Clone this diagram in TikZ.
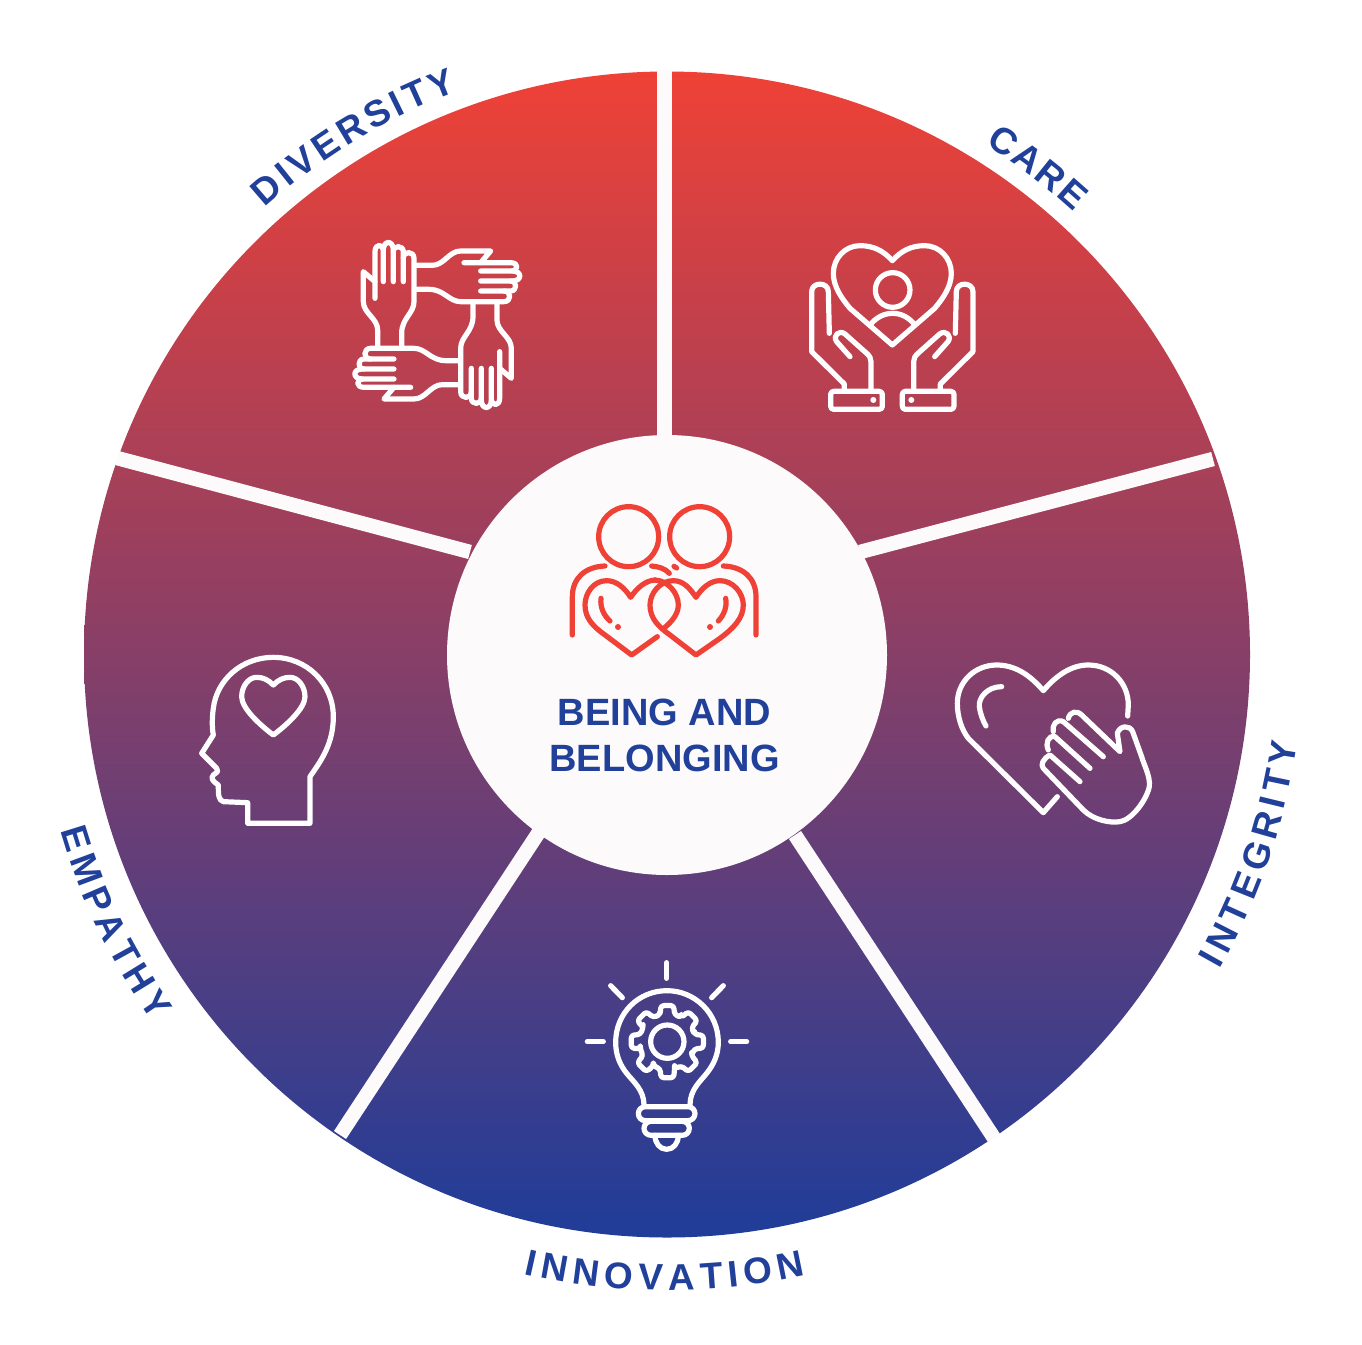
\documentclass[tikz,border=0pt]{standalone}
\usepackage{fontspec}
\setmainfont{Liberation Sans}
\usetikzlibrary{decorations.text}
\definecolor{wheeltop}{HTML}{EF4136}
\definecolor{wheelbot}{HTML}{1F3D99}
\definecolor{labelblue}{HTML}{21409A}
\definecolor{paper}{HTML}{FCFAFB}
\tikzset{
  spoke/.style={draw=paper,line width=14.5pt},
  icon/.style={draw=white,line width=5.2pt,line cap=round,line join=round,fill=none},
  redicon/.style={draw=wheeltop,line width=5.2pt,line cap=round,line join=round,fill=none},
  zoomed/.style={x=0.3333pt,y=-0.3333pt},
  arclabel/.style={decorate,decoration={text along path,
      text={|\fontsize{37pt}{37pt}\selectfont\bfseries\color{labelblue}|#1},
      text align={fit to path}}},
  centretext/.style={text=labelblue,font=\fontsize{38pt}{46pt}\selectfont\bfseries,align=center}
}
\begin{document}
\begin{tikzpicture}[x=1pt,y=-1pt]
\useasboundingbox (0,0) rectangle (1362,1344);
\fill[white] (0,0) rectangle (1362,1344);
% wheel
\shade[top color=wheeltop,bottom color=wheelbot] (667,654.5) circle[radius=583pt];
\draw[spoke] (664.5,70) -- (664.5,445);
\draw[spoke] (860,552) -- (1213,459);
\draw[spoke] (795,835) -- (994,1138);
\draw[spoke] (539,832) -- (340,1135);
\draw[spoke] (470,552) -- (117,458);
\node[circle,fill=paper,minimum size=440pt,inner sep=0pt] (hub) at (667,655) {};
\node[centretext] (title) at (664.5,735) {BEING AND\\BELONGING};
% labels
\path[arclabel=DIVERSITY] (667,654.5) ++(132:601pt) arc[start angle=132,end angle=110.4,radius=601pt];
\path[arclabel=CARE] (667,654.5) ++(58:601pt) arc[start angle=58,end angle=47.4,radius=601pt];
\path[arclabel=INTEGRITY] (667,654.5) ++(-29.7:636pt) arc[start angle=-29.7,end angle=-8,radius=636pt];
\path[arclabel=INNOVATION] (667,654.5) ++(-103:636pt) arc[start angle=-103,end angle=-77.4,radius=636pt];
\path[arclabel=EMPATHY] (667,654.5) ++(196.2:632pt) arc[start angle=196.2,end angle=215.5,radius=632pt];
% diversity icon
\begin{scope}[shift={(340,230)},zoomed]
\foreach \r in {0,-90,-180,-270}{
 \begin{scope}[rotate around={\r:(292,285)}]
  \draw[icon] (113,350) -- (113,300) .. controls (113,265) and (70,250) .. (70,215) -- (70,125) -- (105,155);
  \draw[icon] (105,205) -- (105,65) .. controls (105,40) and (130,40) .. (130,65) -- (130,155);
  \draw[icon] (130,60) .. controls (130,30) and (160,30) .. (160,60) -- (160,155);
  \draw[icon] (160,65) .. controls (160,45) and (190,45) .. (190,65) -- (190,155);
  \draw[icon] (190,85) .. controls (190,62) and (222,62) .. (222,85) -- (222,215) .. controls (222,250) and (185,265) .. (185,310) -- (185,350);
 \end{scope}
}
\end{scope}
% care icon
\begin{scope}[shift={(795,230)},zoomed]
\draw[icon] (292,92) .. controls (265,62) and (235,47) .. (195,47) .. controls (150,47) and (115,85) .. (115,130) .. controls (115,170) and (140,205) .. (165,235) -- (292,345) -- (419,235) .. controls (444,205) and (469,170) .. (469,130) .. controls (469,85) and (434,47) .. (389,47) .. controls (349,47) and (319,62) .. cycle;
\draw[icon] (293,180) circle[radius=52];
\draw[icon] (225,285) .. controls (245,260) and (270,250) .. (293,250) .. controls (316,250) and (340,260) .. (360,285);
\foreach \m/\o in {1/0,-1/584}{
 \begin{scope}[xshift=\o*0.3333pt,xscale=\m]
  \draw[icon] (148,482) -- (148,462) -- (50,365) -- (50,185) .. controls (50,155) and (100,155) .. (100,185) -- (103,310);
  \draw[icon] (165,380) -- (125,335) .. controls (112,318) and (132,298) .. (150,312) -- (215,370) .. controls (224,378) and (228,385) .. (228,395) -- (228,482);
  \draw[icon,rounded corners=3pt] (107,484) rectangle (262,538);
  \fill[white] (235,510) circle[radius=9];
 \end{scope}
}
\end{scope}
% hub icon
\begin{scope}[shift={(550,490)},zoomed]
\draw[redicon] (236,140) circle[radius=90];
\draw[redicon] (449,140) circle[radius=90];
\draw[redicon] (67,435) -- (67,320) .. controls (67,265) and (105,230) .. (165,228);
\draw[redicon] (618,435) -- (618,320) .. controls (618,265) and (580,230) .. (520,228);
\draw[redicon] (305,228) .. controls (325,230) and (345,235) .. (358,250);
\draw[redicon] (372,229) -- (380,234);
\draw[redicon] (322,440) -- (245,495) -- (165,435) .. controls (130,410) and (105,385) .. (105,345) .. controls (105,310) and (130,272) .. (170,272) .. controls (200,272) and (225,295) .. (242,322) .. controls (260,295) and (285,272) .. (315,270);
\draw[redicon] (315,270) .. controls (355,272) and (385,310) .. (385,345) .. controls (385,372) and (365,395) .. (345,412);
\draw[redicon] (438,495) -- (360,435) .. controls (325,410) and (300,385) .. (300,345) .. controls (300,310) and (330,272) .. (370,272) .. controls (400,272) and (420,295) .. (438,322) .. controls (455,295) and (480,272) .. (510,272) .. controls (550,272) and (580,310) .. (580,345) .. controls (580,385) and (550,415) .. (510,445) -- cycle;
\draw[redicon] (153,325) .. controls (150,350) and (160,375) .. (180,393);
\draw[redicon] (527,325) .. controls (532,350) and (522,375) .. (505,393);
\fill[wheeltop] (204,411) circle[radius=9];
\fill[wheeltop] (480,411) circle[radius=9];
\end{scope}
% integrity icon
\begin{scope}[shift={(940,650)},zoomed]
\draw[icon] (352,440) -- (310,488) -- (85,265) .. controls (65,240) and (52,200) .. (52,160) .. controls (52,95) and (105,45) .. (170,45) .. controls (225,45) and (270,75) .. (310,122) .. controls (350,75) and (395,45) .. (445,45) .. controls (515,45) and (565,100) .. (565,165) -- (563,198);
\draw[icon] (185,110) .. controls (140,110) and (115,145) .. (118,170) .. controls (120,190) and (130,215) .. (138,228);
\draw[icon] (420,395) -- (330,315) .. controls (310,325) and (300,345) .. (310,355) -- (430,480) .. controls (460,510) and (510,520) .. (540,515) .. controls (575,510) and (620,450) .. (628,410) .. controls (632,380) and (610,340) .. (605,320) -- (578,245) .. controls (570,225) and (540,225) .. (532,250) -- (540,305) -- (425,195) .. controls (410,180) and (390,185) .. (385,205);
\draw[icon] (490,320) -- (370,215) .. controls (350,205) and (335,225) .. (340,245);
\draw[icon] (450,355) -- (345,260) .. controls (325,255) and (315,280) .. (325,300);
\end{scope}
% innovation icon
\begin{scope}[shift={(570,950)},zoomed]
\draw[icon] (290,38) -- (290,85);
\draw[icon] (122,107) -- (157,143);
\draw[icon] (460,107) -- (425,143);
\draw[icon] (52,275) -- (100,275);
\draw[icon] (482,275) -- (530,275);
\draw[icon] (222,465) .. controls (222,420) and (190,395) .. (170,370) .. controls (150,345) and (137,315) .. (137,277) .. controls (137,190) and (205,122) .. (291,122) .. controls (375,122) and (445,190) .. (445,277) .. controls (445,315) and (430,345) .. (410,370) .. controls (390,395) and (360,420) .. (360,465);
\draw[icon,rounded corners=7pt] (205,470) rectangle (375,512);
\draw[icon,rounded corners=7pt] (222,514) rectangle (358,556);
\draw[icon] (255,556) .. controls (255,580) and (270,598) .. (290,598) .. controls (310,598) and (325,580) .. (325,556);
\draw[icon] (292,275) circle[radius=50];
\draw[icon,rounded corners=3pt,shift={(292,275)}] (-15:84) \foreach \a in {0,45,...,315}{ -- (\a-15:84) -- (\a-10:110) -- (\a+10:110) -- (\a+15:84) -- (\a+30:84)} -- cycle;
\end{scope}
% empathy icon
\begin{scope}[shift={(185,640)},zoomed]
\draw[icon] (375,550) -- (188,550) -- (188,488) -- (115,485) .. controls (100,480) and (100,465) .. (100,435) .. controls (85,425) and (75,415) .. (85,405) -- (98,395) -- (95,385) -- (50,340) -- (85,285) .. controls (80,260) and (82,225) .. (85,205) .. controls (95,120) and (170,52) .. (265,52) .. controls (365,52) and (445,130) .. (445,230) .. controls (445,310) and (410,360) .. (375,410) -- cycle;
\draw[icon] (265,135) .. controls (250,120) and (235,112) .. (215,112) .. controls (190,112) and (170,140) .. (170,170) .. controls (170,205) and (225,255) .. (265,285) .. controls (305,255) and (360,205) .. (360,170) .. controls (360,140) and (340,112) .. (315,112) .. controls (295,112) and (280,120) .. cycle;
\end{scope}
\end{tikzpicture}
\end{document}
